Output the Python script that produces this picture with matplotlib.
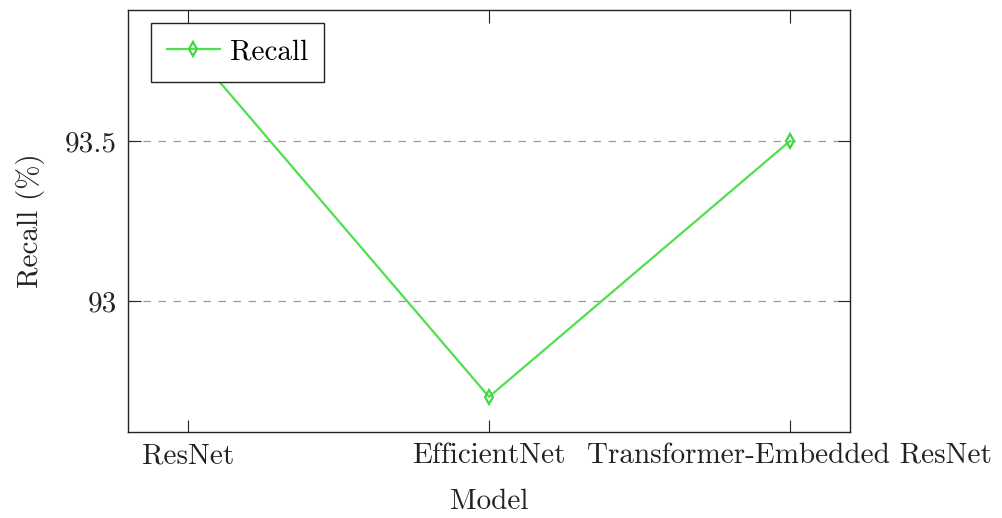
import matplotlib.pyplot as plt

plt.rcParams['font.family'] = 'cmr10'
plt.rcParams['mathtext.fontset'] = 'cm'
plt.rcParams['axes.formatter.use_mathtext'] = True

models = ['ResNet', 'EfficientNet', 'Transformer-Embedded ResNet']
recall = [93.8, 92.7, 93.5]
yticks = [93.0, 93.5]
ytick_labels = ['93', '93.5']

fig = plt.figure(figsize=(10.03, 5.18), dpi=100)
ax = fig.add_axes([0.1276, 0.166, 0.7199, 0.8147])

x = list(range(len(models)))
ax.plot(x, recall, color='#4fe04f', linewidth=1.6, marker='d',
        markersize=7, markerfacecolor='none', markeredgecolor='#3fd83f',
        markeredgewidth=1.6, label='Recall', zorder=3)

ax.set_xlim(-0.2, 2.2)
ax.set_ylim(92.59, 93.91)
ax.set_xticks(x)
ax.set_xticklabels(models)
ax.set_yticks(yticks)
ax.set_yticklabels(ytick_labels)
ax.tick_params(direction='in', length=9, width=0.8, labelsize=21,
               top=True, right=True, pad=8, colors='#222222')
ax.grid(axis='y', linestyle=(0, (6, 6)), color='#999999', linewidth=0.9)
for s in ax.spines.values():
    s.set_linewidth(1.0)
    s.set_color('#222222')

ax.set_xlabel('Model', fontsize=21, labelpad=14, color='#222222')
ax.set_ylabel('Recall (%)', fontsize=21, labelpad=14, color='#222222')

leg = ax.legend(loc='upper left', fontsize=21, fancybox=False,
                edgecolor='#222222', framealpha=1, borderpad=0.55,
                handlelength=1.8, handletextpad=0.35, borderaxespad=0,
                bbox_to_anchor=(0.032, 0.969))
leg.get_frame().set_linewidth(1.0)
leg.set_zorder(5)

fig.savefig('out.png', dpi=100)
